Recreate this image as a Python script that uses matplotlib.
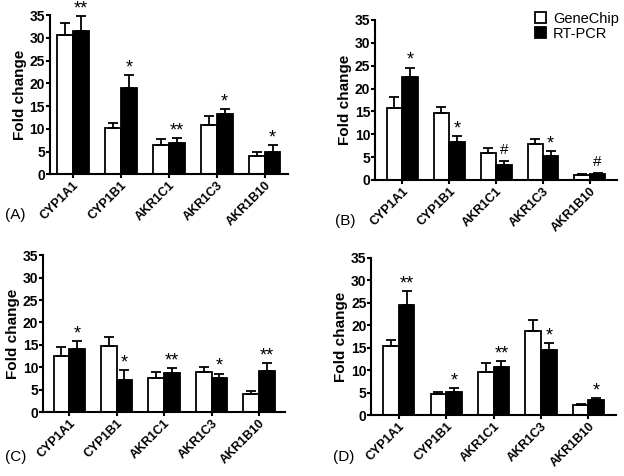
import numpy as np
import matplotlib.pyplot as plt

plt.rcParams['font.family'] = ['Liberation Sans', 'DejaVu Sans']

# Data
genes = ['CYP1A1', 'CYP1B1', 'AKR1C1', 'AKR1C3', 'AKR1B10']
panel_labels = ['(A)', '(B)', '(C)', '(D)']

chip_a = [30.7, 10.2, 6.5, 10.8, 4.0]
chip_a_err = [2.5, 1.0, 1.2, 2.0, 0.9]
pcr_a = [31.6, 19.0, 6.9, 13.2, 5.0]
pcr_a_err = [3.3, 2.9, 1.1, 1.2, 1.5]
sig_a = ['**', '*', '**', '*', '*']

chip_b = [15.8, 14.6, 5.9, 7.8, 1.0]
chip_b_err = [2.4, 1.3, 1.0, 1.2, 0.2]
pcr_b = [22.5, 8.3, 3.3, 5.3, 1.4]
pcr_b_err = [2.1, 1.3, 0.8, 1.0, 0.1]
sig_b = ['*', '*', '#', '*', '#']

chip_c = [12.6, 14.8, 7.7, 9.0, 4.0]
chip_c_err = [2.0, 1.9, 1.2, 1.0, 0.8]
pcr_c = [14.1, 7.2, 8.7, 7.7, 9.1]
pcr_c_err = [1.8, 2.1, 1.1, 0.9, 1.8]
sig_c = ['*', '*', '**', '*', '**']

chip_d = [15.5, 4.6, 9.7, 18.8, 2.3]
chip_d_err = [1.2, 0.5, 1.8, 2.3, 0.2]
pcr_d = [24.6, 5.1, 10.8, 14.5, 3.3]
pcr_d_err = [3.1, 0.9, 1.2, 1.5, 0.4]
sig_d = ['**', '*', '**', '*', '*']

panels = [
    (chip_a, chip_a_err, pcr_a, pcr_a_err, sig_a),
    (chip_b, chip_b_err, pcr_b, pcr_b_err, sig_b),
    (chip_c, chip_c_err, pcr_c, pcr_c_err, sig_c),
    (chip_d, chip_d_err, pcr_d, pcr_d_err, sig_d),
]

# axes boxes [left, bottom, width, height] in figure fraction
boxes = [
    [0.080, 0.634, 0.381, 0.334],
    [0.601, 0.622, 0.388, 0.336],
    [0.069, 0.134, 0.388, 0.330],
    [0.595, 0.128, 0.392, 0.330],
]
xpad = [0.48, 0.58, 0.55, 0.58]
# panel label positions (figure fraction)
label_pos = [(0.008, 0.548), (0.537, 0.535), (0.008, 0.040), (0.534, 0.040)]

fig = plt.figure(figsize=(6.24, 4.76), dpi=100)
x = np.arange(len(genes))
w = 0.33
ekw = dict(elinewidth=1.3, capthick=1.3)

for i, (chip, chip_err, pcr, pcr_err, sig) in enumerate(panels):
    ax = fig.add_axes(boxes[i])
    ax.bar(x - w / 2, chip, w, color='white', edgecolor='black', linewidth=1.3,
           yerr=[np.zeros(5), chip_err], capsize=3.5, error_kw=ekw, label='GeneChip')
    ax.bar(x + w / 2, pcr, w, color='black', edgecolor='black', linewidth=1.3,
           yerr=[np.zeros(5), pcr_err], capsize=3.5, error_kw=ekw, label='RT-PCR')
    for j in range(len(genes)):
        top = pcr[j] + pcr_err[j]
        if sig[j] == '#':
            ax.text(x[j] + w / 2, top + 1.0, sig[j], ha='center', va='bottom', fontsize=11)
        else:
            ax.text(x[j] + w / 2, top - 0.3, sig[j], ha='center', va='bottom', fontsize=13)
    ax.set_xlim(-xpad[i], 4 + xpad[i])
    ax.set_ylim(0, 35)
    ax.set_yticks(range(0, 36, 5))
    ax.set_xticks(x)
    ax.set_xticklabels(genes, rotation=45, ha='right', rotation_mode='anchor',
                       fontsize=9, fontweight='bold')
    for lab in ax.get_yticklabels():
        lab.set_fontweight('bold')
        lab.set_fontsize(10)
    ax.set_ylabel('Fold change', fontsize=11, fontweight='bold', labelpad=2)
    ax.spines['top'].set_visible(False)
    ax.spines['right'].set_visible(False)
    ax.spines['left'].set_linewidth(1.5)
    ax.spines['bottom'].set_linewidth(1.5)
    ax.tick_params(direction='out', length=3, width=1.5, pad=0.5)
    fig.text(label_pos[i][0], label_pos[i][1], panel_labels[i], fontsize=11,
             ha='left', va='center')
    if i == 1:
        handles, labels = ax.get_legend_handles_labels()
        fig.legend(handles, labels, loc='upper left', bbox_to_anchor=(0.857, 0.975),
                   frameon=False, fontsize=10.5, handlelength=0.75, handleheight=0.75,
                   handletextpad=0.5, labelspacing=0.05, borderpad=0, borderaxespad=0)

fig.savefig('out.png', dpi=100)
